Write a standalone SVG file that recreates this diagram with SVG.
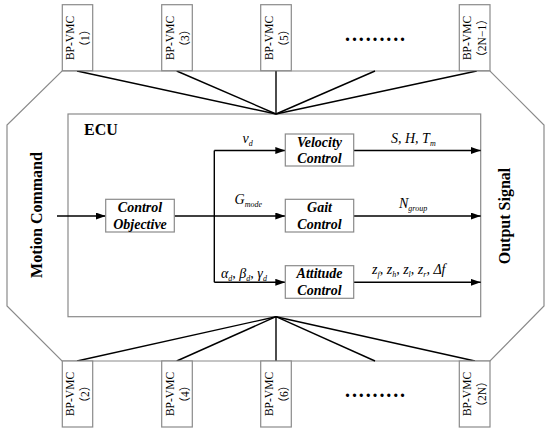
<svg xmlns="http://www.w3.org/2000/svg" width="550" height="431" viewBox="0 0 550 431">
<style>
.g{fill:none;stroke:#8a8a8a;stroke-width:1.2}
.box{fill:#fff;stroke:#8a8a8a;stroke-width:1.2}
.ln{fill:none;stroke:#000;stroke-width:1.4}
.ar{fill:none;stroke:#000;stroke-width:1.4;marker-end:url(#ah)}
.vm{font-family:"Liberation Serif","Noto Sans CJK SC",serif;font-size:11.5px;fill:#000;text-anchor:middle}
.bi{font-family:"Liberation Serif",serif;font-size:14px;font-weight:bold;font-style:italic;text-anchor:middle;fill:#000}
.bd{font-family:"Liberation Serif",serif;font-size:16px;font-weight:bold;fill:#000}
.m{font-family:"Liberation Serif",serif;font-size:14px;font-style:italic;fill:#000}
.s{font-size:8px}
.dots{font-family:"Liberation Serif",serif;font-size:20px;font-weight:bold;fill:#000}
</style>
<defs>
<marker id="ah" markerWidth="11" markerHeight="8" refX="10" refY="3.5" orient="auto" markerUnits="userSpaceOnUse">
<path d="M0,0 L10,3.5 L0,7 z" fill="#000"/>
</marker>
</defs>
<rect width="550" height="431" fill="#fff"/>
<g id="frame">
<polygon class="g" points="62,71 490,71 544,125 544,306 490,361 62,361 7,306 7,125"/>
<rect id="ecu-box" class="g" x="68" y="114" width="412.7" height="202.7"/>
<text class="bd" x="84" y="135">ECU</text>
<text class="bd" transform="translate(42,215) rotate(-90)" text-anchor="middle">Motion Command</text>
<text class="bd" transform="translate(510,216) rotate(-90)" text-anchor="middle">Output Signal</text>
</g>
<g id="connectors">
<line class="ln" x1="77" y1="71" x2="276" y2="114"/>
<line class="ln" x1="176.7" y1="71" x2="276" y2="114"/>
<line class="ln" x1="276" y1="71" x2="276" y2="114"/>
<line class="ln" x1="375" y1="71" x2="276" y2="114"/>
<line class="ln" x1="476.7" y1="71" x2="276" y2="114"/>
<line class="ln" x1="77" y1="361" x2="276" y2="316.7"/>
<line class="ln" x1="176.7" y1="361" x2="276" y2="316.7"/>
<line class="ln" x1="276" y1="361" x2="276" y2="316.7"/>
<line class="ln" x1="375" y1="361" x2="276" y2="316.7"/>
<line class="ln" x1="475" y1="361" x2="276" y2="316.7"/>
<line class="ar" x1="57" y1="216" x2="105.7" y2="216"/>
<line class="ln" x1="174.3" y1="216" x2="214.3" y2="216"/>
<line class="ln" x1="214.3" y1="150.5" x2="214.3" y2="282.3"/>
<line class="ar" x1="214.3" y1="150.5" x2="285.3" y2="150.5"/>
<line class="ar" x1="214.3" y1="216" x2="285.3" y2="216"/>
<line class="ar" x1="214.3" y1="282.3" x2="285.3" y2="282.3"/>
<line class="ar" x1="353.7" y1="150.5" x2="480.7" y2="150.5"/>
<line class="ar" x1="353.7" y1="216" x2="480.7" y2="216"/>
<line class="ar" x1="353.7" y1="282.3" x2="480.7" y2="282.3"/>
</g>
<g id="vmc1"><rect class="box" x="62.3" y="4.7" width="30.4" height="66"/>
<text class="vm" transform="translate(74,38) rotate(-90)">BP-VMC</text>
<text class="vm" transform="translate(89,38) rotate(-90)">（1）</text></g>
<g id="vmc3"><rect class="box" x="161.7" y="4.7" width="30.6" height="66"/>
<text class="vm" transform="translate(173.5,38) rotate(-90)">BP-VMC</text>
<text class="vm" transform="translate(188.5,38) rotate(-90)">（3）</text></g>
<g id="vmc5"><rect class="box" x="260.7" y="4.7" width="30.6" height="66"/>
<text class="vm" transform="translate(272.5,38) rotate(-90)">BP-VMC</text>
<text class="vm" transform="translate(287.5,38) rotate(-90)">（5）</text></g>
<g id="dots-top"><text class="dots" x="345" y="41" textLength="60" lengthAdjust="spacing">.........</text></g>
<g id="vmc2n1"><rect class="box" x="459.3" y="4.7" width="30.7" height="66"/>
<text class="vm" transform="translate(471,38) rotate(-90)">BP-VMC</text>
<text class="vm" transform="translate(486,38) rotate(-90)">（2N−1）</text></g>
<g id="vmc2"><rect class="box" x="62.3" y="361" width="30.4" height="66"/>
<text class="vm" transform="translate(74,394) rotate(-90)">BP-VMC</text>
<text class="vm" transform="translate(89,394) rotate(-90)">（2）</text></g>
<g id="vmc4"><rect class="box" x="161.7" y="361" width="30.6" height="66"/>
<text class="vm" transform="translate(173.5,394) rotate(-90)">BP-VMC</text>
<text class="vm" transform="translate(188.5,394) rotate(-90)">（4）</text></g>
<g id="vmc6"><rect class="box" x="260.7" y="361" width="30.6" height="66"/>
<text class="vm" transform="translate(272.5,394) rotate(-90)">BP-VMC</text>
<text class="vm" transform="translate(287.5,394) rotate(-90)">（6）</text></g>
<g id="dots-bottom"><text class="dots" x="345" y="397" textLength="60" lengthAdjust="spacing">.........</text></g>
<g id="vmc2n"><rect class="box" x="459.3" y="361" width="30.7" height="66"/>
<text class="vm" transform="translate(471,394) rotate(-90)">BP-VMC</text>
<text class="vm" transform="translate(486,394) rotate(-90)">（2N）</text></g>
<g id="control-objective"><rect class="box" x="105.7" y="199.3" width="68.6" height="32.7"/>
<text class="bi" x="140" y="212">Control</text><text class="bi" x="140" y="228.5">Objective</text></g>
<g id="velocity-control"><rect class="box" x="285.3" y="134" width="68.4" height="32"/>
<text class="bi" x="319.5" y="146.5">Velocity</text><text class="bi" x="319.5" y="163">Control</text></g>
<g id="gait-control"><rect class="box" x="285.3" y="199.3" width="68.4" height="32.7"/>
<text class="bi" x="319.5" y="212">Gait</text><text class="bi" x="319.5" y="229">Control</text></g>
<g id="attitude-control"><rect class="box" x="285.3" y="265.7" width="68.4" height="32.6"/>
<text class="bi" x="319.5" y="278">Attitude</text><text class="bi" x="319.5" y="295">Control</text></g>
<g id="labels">
<text class="m" x="242.5" y="143">v<tspan class="s" dy="3">d</tspan></text>
<text class="m" x="234.5" y="204">G<tspan class="s" dy="3">mode</tspan></text>
<text class="m" x="221" y="278">α<tspan class="s" dy="3">d</tspan><tspan dy="-3">, β</tspan><tspan class="s" dy="3">d</tspan><tspan dy="-3">, γ</tspan><tspan class="s" dy="3">d</tspan></text>
<text class="m" x="391" y="143">S, H, T<tspan class="s" dy="3">m</tspan></text>
<text class="m" x="399" y="208">N<tspan class="s" dy="3">group</tspan></text>
<text class="m" x="372" y="274">z<tspan class="s" dy="3">f</tspan><tspan dy="-3">, z</tspan><tspan class="s" dy="3">h</tspan><tspan dy="-3">, z</tspan><tspan class="s" dy="3">l</tspan><tspan dy="-3">, z</tspan><tspan class="s" dy="3">r</tspan><tspan dy="-3">, Δf</tspan></text>
</g>
</svg>
